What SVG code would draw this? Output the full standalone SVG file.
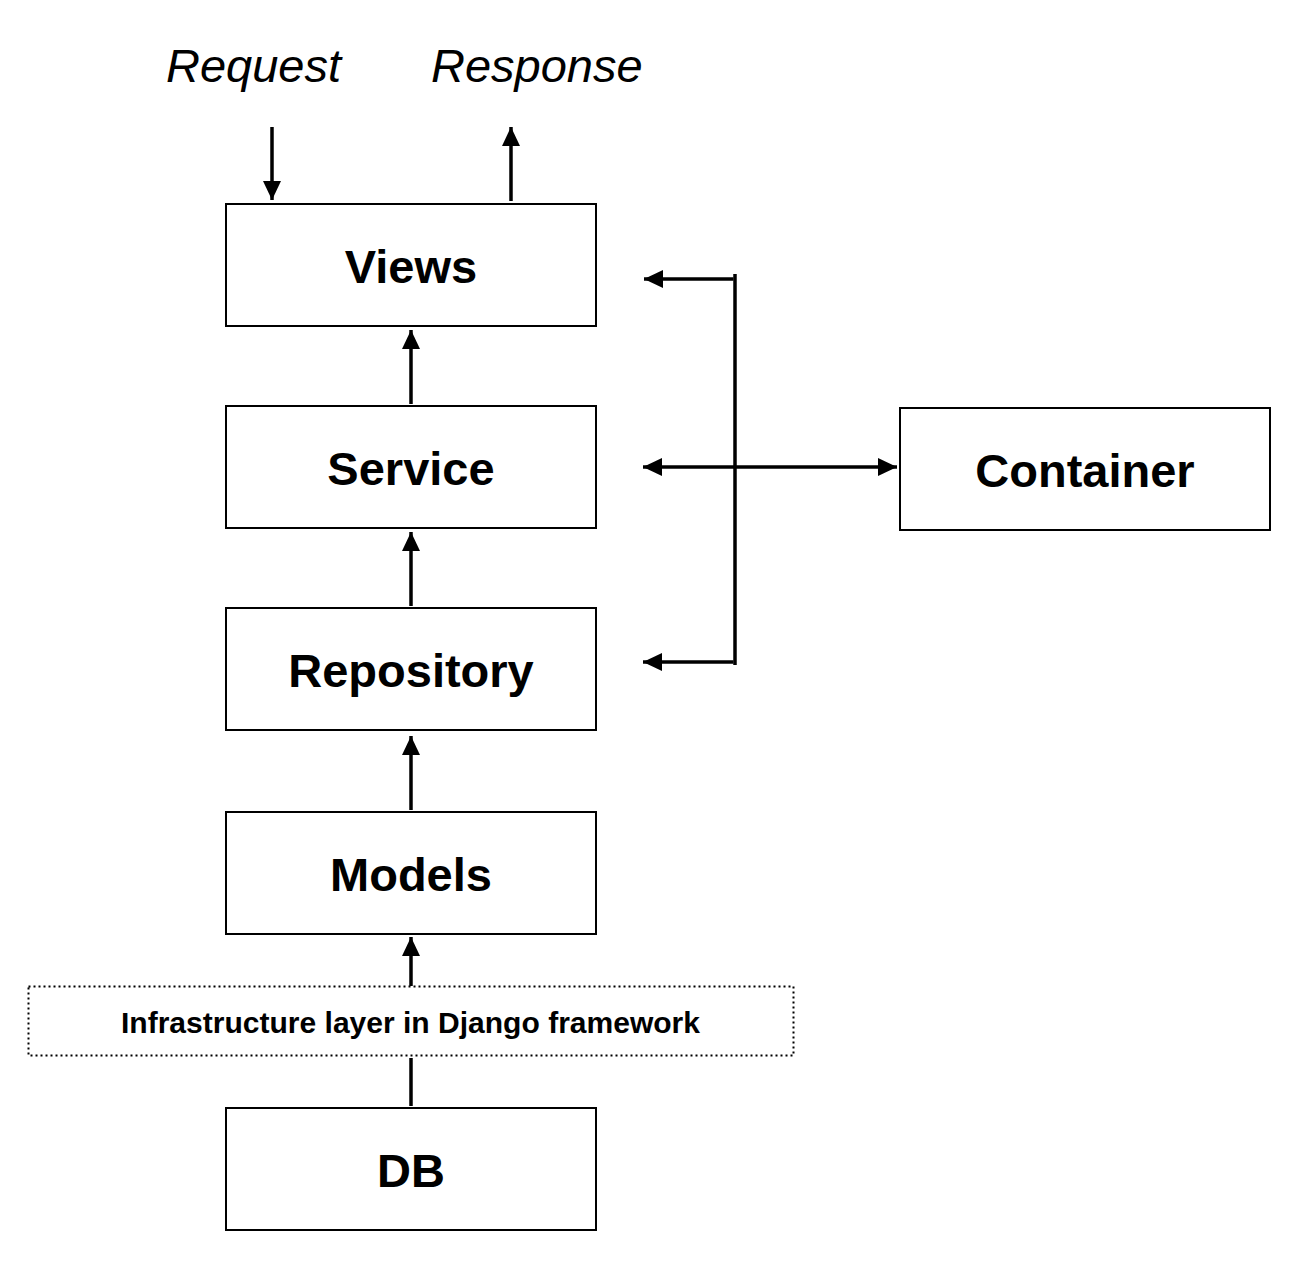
<svg xmlns="http://www.w3.org/2000/svg" width="1308" height="1284" viewBox="0 0 1308 1284">
<style>
.box{fill:#fff;stroke:#000;stroke-width:2}
.lbl{font-family:"Liberation Sans",Arial,sans-serif;font-weight:bold;font-size:47px;text-anchor:middle;fill:#000}
.io{font-family:"Liberation Sans",Arial,sans-serif;font-style:italic;font-size:47px;fill:#000}
.small{font-family:"Liberation Sans",Arial,sans-serif;font-weight:bold;font-size:30px;fill:#000}
.ln{stroke:#000;stroke-width:3.5;fill:none}
</style>
<defs>
<marker id="ah" viewBox="0 0 19 18" refX="19" refY="9" markerWidth="19" markerHeight="18" markerUnits="userSpaceOnUse" orient="auto-start-reverse">
<path d="M0,0 L19,9 L0,18 z" fill="#000"/>
</marker>
</defs>
<rect width="1308" height="1284" fill="#fff"/>
<text class="io" x="166" y="82">Request</text>
<text class="io" x="431" y="82">Response</text>
<g id="views"><rect class="box" x="226" y="204" width="370" height="122"/><text class="lbl" x="411" y="283">Views</text></g>
<g id="service"><rect class="box" x="226" y="406" width="370" height="122"/><text class="lbl" x="411" y="485">Service</text></g>
<g id="repository"><rect class="box" x="226" y="608" width="370" height="122"/><text class="lbl" x="411" y="687">Repository</text></g>
<g id="models"><rect class="box" x="226" y="812" width="370" height="122"/><text class="lbl" x="411" y="891">Models</text></g>
<g id="infra"><rect x="28.5" y="986.5" width="765" height="69" fill="#fff" stroke="#000" stroke-width="2" stroke-dasharray="2 3"/><text class="small" x="121" y="1033" textLength="579" lengthAdjust="spacingAndGlyphs">Infrastructure layer in Django framework</text></g>
<g id="db"><rect class="box" x="226" y="1108" width="370" height="122"/><text class="lbl" x="411" y="1187">DB</text></g>
<g id="container"><rect class="box" x="900" y="408" width="370" height="122"/><text class="lbl" x="1085" y="487">Container</text></g>
<g id="connectors">
<line class="ln" x1="272" y1="127" x2="272" y2="200" marker-end="url(#ah)"/>
<line class="ln" x1="511" y1="201" x2="511" y2="127" marker-end="url(#ah)"/>
<line class="ln" x1="411" y1="404" x2="411" y2="330" marker-end="url(#ah)"/>
<line class="ln" x1="411" y1="606" x2="411" y2="532" marker-end="url(#ah)"/>
<line class="ln" x1="411" y1="810" x2="411" y2="736" marker-end="url(#ah)"/>
<line class="ln" x1="411" y1="986" x2="411" y2="937" marker-end="url(#ah)"/>
<line class="ln" x1="411" y1="1058" x2="411" y2="1106"/>
<line class="ln" x1="735" y1="274" x2="735" y2="665"/>
<line class="ln" x1="733.5" y1="279" x2="644" y2="279" marker-end="url(#ah)"/>
<line class="ln" x1="733.5" y1="662" x2="643" y2="662" marker-end="url(#ah)"/>
<line class="ln" x1="643" y1="467" x2="897" y2="467" marker-start="url(#ah)" marker-end="url(#ah)"/>
</g>
</svg>
